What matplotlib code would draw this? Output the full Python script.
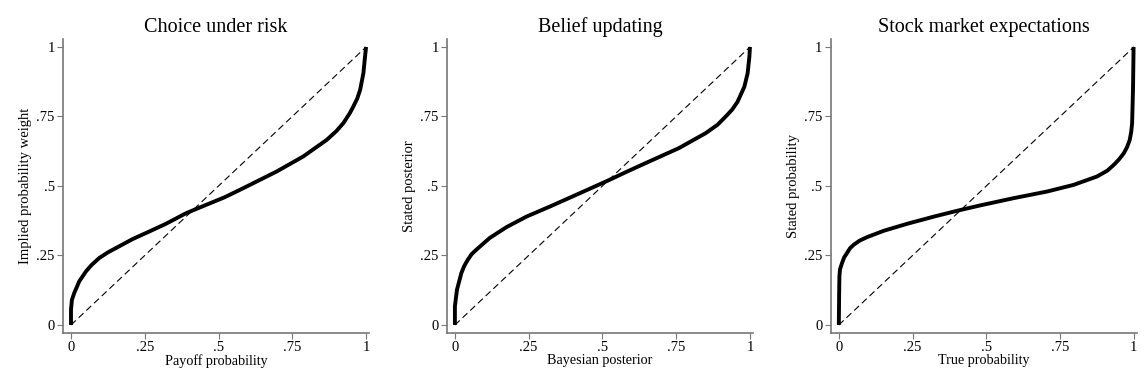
import numpy as np
import matplotlib.pyplot as plt

# values
p_risk = [0, 0.0, 0.003, 0.011, 0.028, 0.051, 0.07, 0.096, 0.125, 0.153, 0.209, 0.265, 0.322, 0.39,
          0.458, 0.52, 0.584, 0.697, 0.787, 0.867, 0.9, 0.923, 0.945, 0.957, 0.97, 0.98, 0.991,
          0.996, 1.0]
w_risk = [0, 0.055, 0.09, 0.115, 0.157, 0.193, 0.216, 0.241, 0.261, 0.277, 0.309, 0.336, 0.364,
          0.402, 0.432, 0.459, 0.492, 0.552, 0.606, 0.666, 0.698, 0.726, 0.762, 0.786, 0.814,
          0.846, 0.906, 0.96, 1.0]

p_belief = [0, 0.0, 0.007, 0.022, 0.032, 0.044, 0.057, 0.073, 0.118, 0.175, 0.243, 0.322, 0.413,
            0.476, 0.524, 0.58, 0.646, 0.759, 0.85, 0.89, 0.918, 0.94, 0.958, 0.981, 0.992,
            0.998, 1.0]
w_belief = [0, 0.067, 0.127, 0.187, 0.213, 0.235, 0.255, 0.271, 0.313, 0.352, 0.39, 0.426, 0.469,
            0.499, 0.522, 0.55, 0.582, 0.636, 0.69, 0.72, 0.75, 0.775, 0.803, 0.857, 0.905,
            0.965, 1.0]

p_stock = [0, 0.001, 0.002, 0.004, 0.011, 0.018, 0.028, 0.038, 0.051, 0.07, 0.096, 0.153, 0.232,
           0.323, 0.402, 0.479, 0.592, 0.706, 0.796, 0.875, 0.91, 0.932, 0.95, 0.966, 0.977,
           0.986, 0.991, 0.994, 0.997, 0.999]
w_stock = [0, 0.103, 0.175, 0.2, 0.223, 0.243, 0.259, 0.276, 0.289, 0.303, 0.316, 0.339, 0.364,
           0.39, 0.411, 0.43, 0.456, 0.48, 0.504, 0.534, 0.555, 0.576, 0.596, 0.618, 0.64,
           0.666, 0.695, 0.726, 0.846, 1.0]

titles = ["Choice under risk", "Belief updating", "Stock market expectations"]
xlabels = ["Payoff probability", "Bayesian posterior", "True probability"]
ylabels = ["Implied probability weight", "Stated posterior", "Stated probability"]
ticks = [0, 0.25, 0.5, 0.75, 1]
ticklabels = ["0", ".25", ".5", ".75", "1"]

plt.rcParams['font.family'] = ['Liberation Serif', 'DejaVu Serif']

fig = plt.figure(figsize=(11.46, 3.85), dpi=100)
lefts = [0.055, 0.390, 0.725]
curves = [(p_risk, w_risk), (p_belief, w_belief), (p_stock, w_stock)]
gray = '#777777'

for i in range(3):
    ax = fig.add_axes([lefts[i], 0.135, 0.267, 0.764])
    x, y = curves[i]
    ax.plot([0, 1], [0, 1], color='black', lw=0.8, ls=(0, (6, 3.5)))
    ax.plot(x, y, color='black', lw=2.8, solid_capstyle='butt', solid_joinstyle='round')
    ax.set_xlim(-0.027, 1.01)
    ax.set_ylim(-0.029, 1.029)
    ax.set_xticks(ticks)
    ax.set_xticklabels(ticklabels)
    ax.set_yticks(ticks)
    ax.set_yticklabels(ticklabels)
    for s in ['top', 'right']:
        ax.spines[s].set_visible(False)
    for s in ['left', 'bottom']:
        ax.spines[s].set_color(gray)
        ax.spines[s].set_linewidth(1.2)
    ax.tick_params(length=4, width=0.8, color=gray, labelsize=10.5, pad=2)
    ax.set_title(titles[i], fontsize=14.5, pad=5)
    ax.set_xlabel(xlabels[i], fontsize=10.2, labelpad=0)
    ax.set_ylabel(ylabels[i], fontsize=10.5, labelpad=3)

fig.savefig('out.png', dpi=100)
